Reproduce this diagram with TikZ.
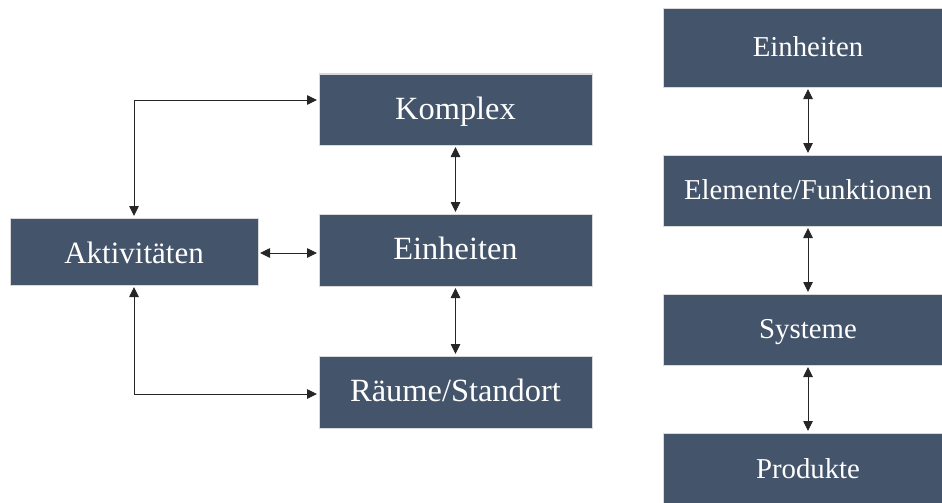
\documentclass[tikz,border=0pt]{standalone}
\usepackage{fontspec}
\setmainfont{Liberation Serif}
\usetikzlibrary{arrows.meta}
\definecolor{boxfill}{HTML}{44546A}
\definecolor{boxedge}{HTML}{D9D9D9}
\tikzset{
  box/.style={rectangle, fill=boxfill, draw=boxedge, line width=1pt,
    text=white, inner sep=0pt, anchor=center},
  leftbox/.style={box, minimum width=273pt, minimum height=72pt,
    text height=25pt, text depth=6pt,
    font=\fontsize{32.4}{36}\selectfont},
  rightbox/.style={box, minimum width=290pt, minimum height=72pt,
    text height=23pt, text depth=5pt,
    font=\fontsize{28.8}{33}\selectfont},
  link/.style={{Triangle[length=10pt,width=9.5pt]}-{Triangle[length=10pt,width=9.5pt]},
    line width=0.9pt, draw=black!85, shorten <=1.5pt, shorten >=1.5pt}
}
\begin{document}
\begin{tikzpicture}[x=1pt,y=-1pt]
  \useasboundingbox (0,0) rectangle (942,503);
  \clip (0,0) rectangle (942,503);

  % left group
  \node[leftbox, minimum height=71pt] (komplex) at (455.5,109.5) {Komplex};
  \node[leftbox] (einheitenL) at (455.5,250) {Einheiten};
  \node[leftbox] (raeume) at (455.5,392) {Räume/Standort};
  \node[box, minimum width=248pt, minimum height=67pt,
        text height=28pt, text depth=5pt,
        font=\fontsize{31}{35}\selectfont] (akt) at (134,251.5) {Aktivitäten};

  \draw[link] (akt.north) |- ([yshift=9.5pt]komplex.west);
  \draw[link] (akt.south) |- ([yshift=-2pt]raeume.west);
  \draw[link] ([yshift=-1.5pt]akt.east) -- ([yshift=-1.5pt]akt.east -| einheitenL.west);
  \draw[link] (komplex.south) -- (einheitenL.north);
  \draw[link] (einheitenL.south) -- (raeume.north);

  % right column
  \node[rightbox, minimum height=78pt] (einheitenR) at (808,48) {Einheiten};
  \node[rightbox, minimum height=71pt] (elemente) at (808,190.5) {Elemente/Funktionen};
  \node[rightbox, minimum height=71pt] (systeme) at (808,329.5) {Systeme};
  \node[rightbox] (produkte) at (808,469) {Produkte};

  \draw[link] (einheitenR.south) -- (elemente.north);
  \draw[link] (elemente.south) -- (systeme.north);
  \draw[link] (systeme.south) -- (produkte.north);
\end{tikzpicture}
\end{document}
